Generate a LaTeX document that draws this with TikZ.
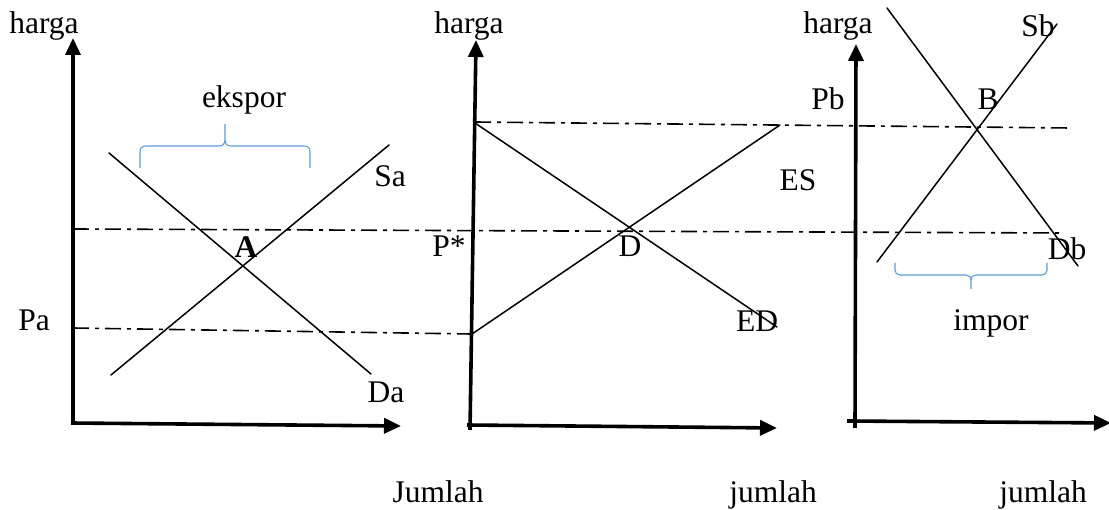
\documentclass[tikz,border=0pt]{standalone}
\usepackage{fontspec}
\setmainfont{Liberation Serif}
\usetikzlibrary{arrows.meta}
\definecolor{bracecol}{RGB}{91,155,213}
\begin{document}
\begin{tikzpicture}[x=1pt,y=-1pt,
  font=\fontsize{31.5}{37}\selectfont,
  axis/.style={line width=3.6pt,-{Triangle[length=17pt,width=15pt]}},
  curve/.style={line width=1.5pt,line cap=round},
  dashdot/.style={line width=1.6pt,dash pattern=on 16pt off 6pt on 4pt off 6pt},
  bracestyle/.style={draw=bracecol,line width=1.1pt},
  lbl/.style={anchor=base,inner sep=0pt,outer sep=0pt}]
\useasboundingbox (0,0) rectangle (1109,510);

% ---------- coordinates ----------
\coordinate (o1) at (73,425);  \coordinate (ty1) at (73,38);  \coordinate (o1x) at (71,423); \coordinate (tx1) at (401,426);
\coordinate (o2) at (470,430); \coordinate (ty2) at (476,40); \coordinate (o2x) at (467,425); \coordinate (tx2) at (777,428);
\coordinate (o3) at (855,428); \coordinate (ty3) at (856,44); \coordinate (o3x) at (847,421); \coordinate (tx3) at (1111,423);

\coordinate (sa0) at (111,375); \coordinate (sa1) at (389,145);
\coordinate (da0) at (109,153); \coordinate (da1) at (371,374);
\coordinate (es0) at (472,334); \coordinate (es1) at (780,125);
\coordinate (ed0) at (475,123); \coordinate (ed1) at (777,327);
\coordinate (sb0) at (877,262); \coordinate (sb1) at (1057,24);
\coordinate (db0) at (887,8);   \coordinate (db1) at (1078,266);

\coordinate (pst0) at (73,229);  \coordinate (pst1) at (1062,233);
\coordinate (pa0) at (73,328);   \coordinate (pa1) at (471,334);
\coordinate (pb0) at (475,122);  \coordinate (pb1) at (1070,128);

% ---------- dash-dot price lines ----------
\draw[dashdot] (pst0) -- (pst1);
\draw[dashdot] (pa0) -- (pa1);
\draw[dashdot] (pb0) -- (pb1);

% ---------- axes ----------
\draw[axis] (o1) -- (ty1);
\draw[axis] (o1x) -- (tx1);
\draw[axis] (o2) -- (ty2);
\draw[axis] (o2x) -- (tx2);
\draw[axis] (o3) -- (ty3);
\draw[axis] (o3x) -- (tx3);

% ---------- curves ----------
\draw[curve] (sa0) -- (sa1);
\draw[curve] (da0) -- (da1);
\draw[curve] (es0) -- (es1);
\draw[curve] (ed0) -- (ed1);
\draw[curve] (sb0) -- (sb1);
\draw[curve] (db0) -- (db1);

% ---------- braces ----------
\draw[bracestyle] (140,168) -- (140,152) .. controls (140,148) and (142,146) .. (146,146)
  -- (219,146) .. controls (223,146) and (225,144) .. (225,139) -- (225,124)
  -- (225,139) .. controls (225,144) and (227,146) .. (231,146)
  -- (304,146) .. controls (308,146) and (310,148) .. (310,152) -- (310,168);
\draw[bracestyle] (895,263) -- (895,270) .. controls (895,273) and (897,275) .. (900,275)
  -- (966,275) .. controls (969,275) and (971,277) .. (971,281) -- (971,289)
  -- (971,281) .. controls (971,277) and (973,275) .. (976,275)
  -- (1042,275) .. controls (1045,275) and (1047,273) .. (1047,270) -- (1047,263);

% ---------- labels ----------
\node[lbl] (h1) at (44,34) {harga};
\node[lbl] (h2) at (469,34) {harga};
\node[lbl] (h3) at (838,34) {harga};
\node[lbl] (eks) at (244,108) {ekspor};
\node[lbl] (Sa) at (390,187) {Sa};
\node[lbl,font=\fontsize{31.5}{37}\selectfont\bfseries] (A) at (246,258) {A};
\node[lbl] (Pa) at (34,331) {Pa};
\node[lbl] (Da) at (386,403) {Da};
\node[lbl] (Pst) at (449,257) {P*};
\node[lbl] (D) at (630,257) {D};
\node[lbl] (ES) at (798,191) {ES};
\node[lbl] (ED) at (757,332) {ED};
\node[lbl] (Pb) at (828,110) {Pb};
\node[lbl] (B) at (988,110) {B};
\node[lbl] (Sb) at (1038,37) {Sb};
\node[lbl] (Db) at (1067,260) {Db};
\node[lbl] (imp) at (991,331) {impor};
\node[lbl] (j1) at (438,503) {Jumlah};
\node[lbl] (j2) at (773,503) {jumlah};
\node[lbl] (j3) at (1043,503) {jumlah};
\end{tikzpicture}
\end{document}
